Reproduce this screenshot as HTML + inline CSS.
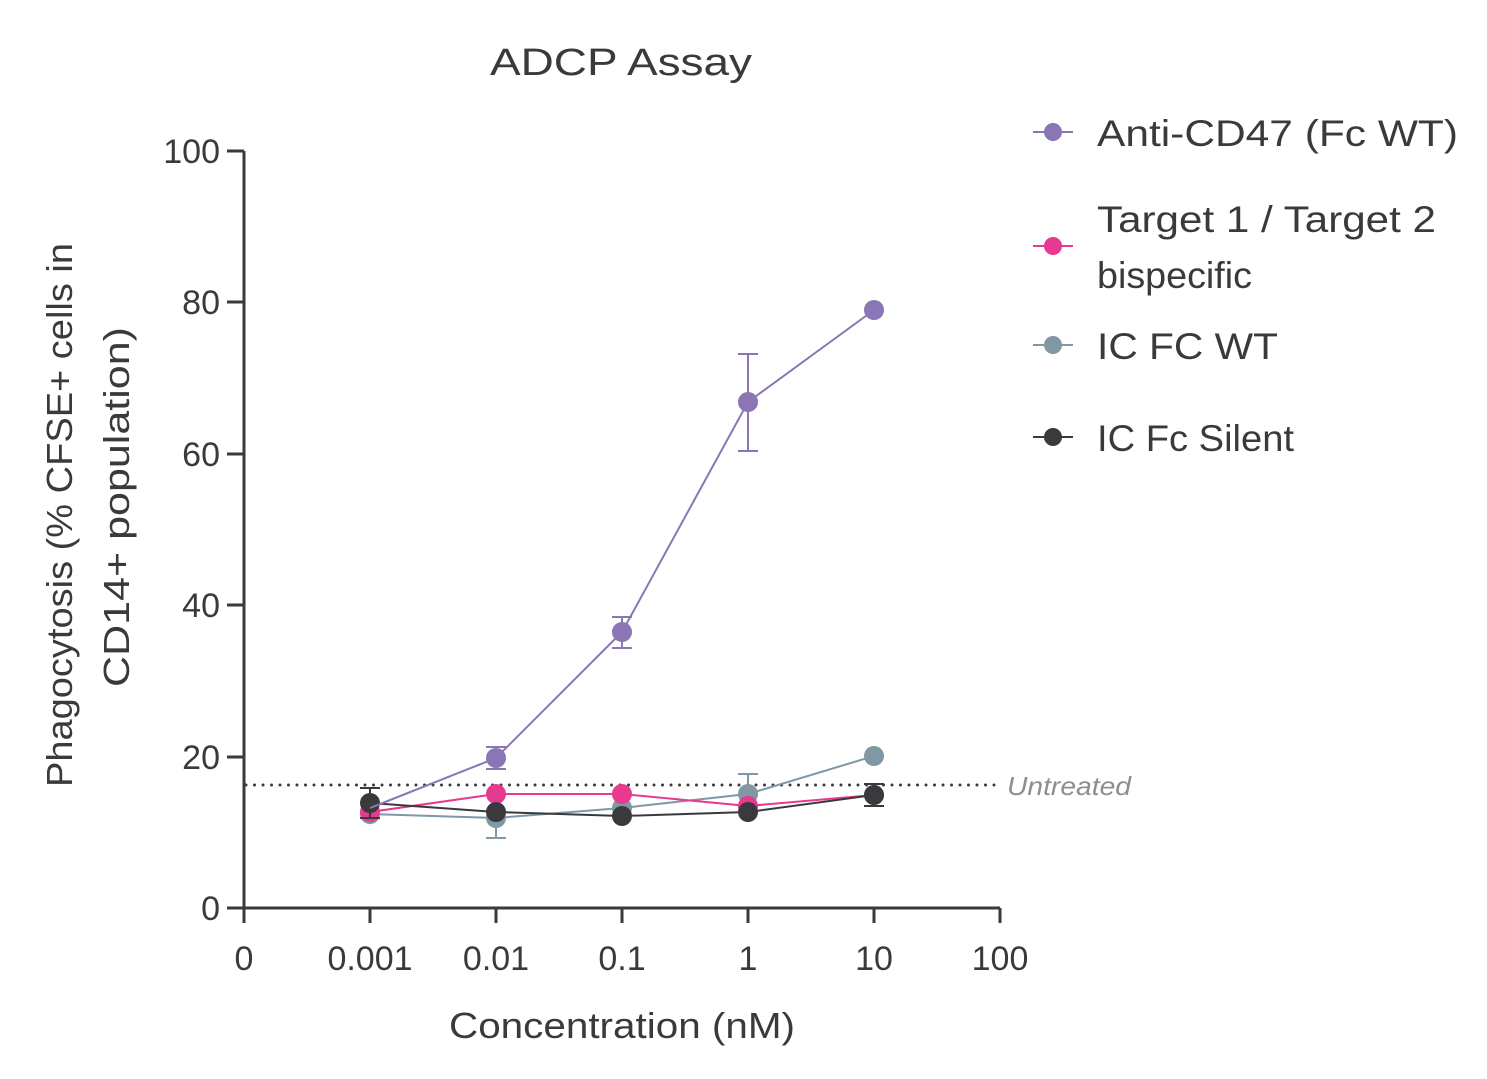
<!DOCTYPE html>
<html><head><meta charset="utf-8"><style>
html,body{margin:0;padding:0;background:#fff;}
svg{display:block;font-family:"Liberation Sans",sans-serif;}
</style></head><body>
<svg width="1487" height="1079" viewBox="0 0 1487 1079" xmlns="http://www.w3.org/2000/svg" xml:space="preserve">
<rect width="1487" height="1079" fill="#fff"/>
<text x="490" y="75" font-size="38" fill="#3a3a3c" textLength="262" lengthAdjust="spacingAndGlyphs">ADCP  Assay</text>
<g stroke="#3a3a3c" stroke-width="3" fill="none">
<line x1="244" y1="151" x2="244" y2="908"/>
<line x1="242" y1="908" x2="1000" y2="908"/>
<line x1="227" y1="151" x2="244" y2="151"/>
<line x1="227" y1="302" x2="244" y2="302"/>
<line x1="227" y1="454" x2="244" y2="454"/>
<line x1="227" y1="605" x2="244" y2="605"/>
<line x1="227" y1="757" x2="244" y2="757"/>
<line x1="227" y1="908" x2="244" y2="908"/>
<line x1="244" y1="908" x2="244" y2="923"/>
<line x1="370" y1="908" x2="370" y2="923"/>
<line x1="496" y1="908" x2="496" y2="923"/>
<line x1="622" y1="908" x2="622" y2="923"/>
<line x1="748" y1="908" x2="748" y2="923"/>
<line x1="874" y1="908" x2="874" y2="923"/>
<line x1="1000" y1="908" x2="1000" y2="923"/>
</g>
<g font-size="34" fill="#3a3a3c" text-anchor="end">
<text x="220" y="163">100</text>
<text x="220" y="314">80</text>
<text x="220" y="466">60</text>
<text x="220" y="617">40</text>
<text x="220" y="769">20</text>
<text x="220" y="920">0</text>
</g>
<g font-size="34" fill="#3a3a3c" text-anchor="middle">
<text x="244" y="970">0</text>
<text x="370" y="970">0.001</text>
<text x="496" y="970">0.01</text>
<text x="622" y="970">0.1</text>
<text x="748" y="970">1</text>
<text x="874" y="970">10</text>
<text x="1000" y="970">100</text>
</g>
<text x="449" y="1038" font-size="36" fill="#3a3a3c" textLength="346" lengthAdjust="spacingAndGlyphs">Concentration (nM)</text>
<g transform="translate(72,0) rotate(-90)" font-size="36" fill="#3a3a3c">
<text x="-787" y="0" textLength="544" lengthAdjust="spacingAndGlyphs">Phagocytosis  (% CFSE+ cells in</text>
<text x="-687" y="57" textLength="360" lengthAdjust="spacingAndGlyphs">CD14+ population)</text>
</g>
<line x1="246" y1="785" x2="995" y2="785" stroke="#3a3a3c" stroke-width="3" stroke-dasharray="0 8.5" stroke-linecap="round"/>
<text x="1007" y="795" font-size="26" font-style="italic" fill="#8a8f93" textLength="124" lengthAdjust="spacingAndGlyphs">Untreated</text>
<g stroke="#7f98a4" stroke-width="2" fill="none">
<polyline points="370,814 496,818 622,808 748,794 874,756"/>
<line x1="496" y1="798" x2="496" y2="838"/><line x1="486" y1="838" x2="506" y2="838"/>
<line x1="748" y1="774" x2="748" y2="794"/><line x1="738" y1="774" x2="758" y2="774"/>
</g>
<g fill="#7f98a4"><circle cx="370" cy="814" r="10"/><circle cx="496" cy="818" r="10"/><circle cx="622" cy="808" r="10"/><circle cx="748" cy="794" r="10"/><circle cx="874" cy="756" r="10"/></g>
<g stroke="#e6398f" stroke-width="2" fill="none"><polyline points="370,812 496,794 622,794 748,806 874,795"/></g>
<g fill="#e6398f"><circle cx="370" cy="812" r="10"/><circle cx="496" cy="794" r="10"/><circle cx="622" cy="794" r="10"/><circle cx="748" cy="806" r="10"/><circle cx="874" cy="795" r="10"/></g>
<g stroke="#3a3a3c" stroke-width="2" fill="none">
<polyline points="370,803 496,812 622,816 748,812 874,795"/>
<line x1="370" y1="788" x2="370" y2="818"/><line x1="360" y1="788" x2="380" y2="788"/><line x1="360" y1="818" x2="380" y2="818"/>
<line x1="874" y1="784" x2="874" y2="806"/><line x1="864" y1="784" x2="884" y2="784"/><line x1="864" y1="806" x2="884" y2="806"/>
</g>
<g fill="#3a3a3c"><circle cx="370" cy="803" r="10"/><circle cx="496" cy="812" r="10"/><circle cx="622" cy="816" r="10"/><circle cx="748" cy="812" r="10"/><circle cx="874" cy="795" r="10"/></g>
<g stroke="#8a76b4" stroke-width="2" fill="none">
<polyline points="370,808 496,758 622,632 748,402 874,310"/>
<line x1="496" y1="747" x2="496" y2="769"/><line x1="486" y1="747" x2="506" y2="747"/><line x1="486" y1="769" x2="506" y2="769"/>
<line x1="622" y1="617" x2="622" y2="648"/><line x1="612" y1="617" x2="632" y2="617"/><line x1="612" y1="648" x2="632" y2="648"/>
<line x1="748" y1="354" x2="748" y2="451"/><line x1="738" y1="354" x2="758" y2="354"/><line x1="738" y1="451" x2="758" y2="451"/>
</g>
<g fill="#8a76b4"><circle cx="496" cy="758" r="10"/><circle cx="622" cy="632" r="10"/><circle cx="748" cy="402" r="10"/><circle cx="874" cy="310" r="10"/></g>
<g stroke-width="2">
<line x1="1033" y1="132" x2="1073" y2="132" stroke="#8a76b4"/><circle cx="1053" cy="132" r="9" fill="#8a76b4"/>
<line x1="1033" y1="246" x2="1073" y2="246" stroke="#e6398f"/><circle cx="1053" cy="246" r="9" fill="#e6398f"/>
<line x1="1033" y1="345" x2="1073" y2="345" stroke="#7f98a4"/><circle cx="1053" cy="345" r="9" fill="#7f98a4"/>
<line x1="1033" y1="437" x2="1073" y2="437" stroke="#3a3a3c"/><circle cx="1053" cy="437" r="9" fill="#3a3a3c"/>
</g>
<g font-size="37" fill="#3a3a3c">
<text x="1097" y="146" textLength="361" lengthAdjust="spacingAndGlyphs">Anti-CD47  (Fc WT)</text>
<text x="1097" y="232" textLength="339" lengthAdjust="spacingAndGlyphs">Target 1 /  Target 2</text>
<text x="1097" y="288" textLength="155" lengthAdjust="spacingAndGlyphs">bispecific</text>
<text x="1097" y="359" textLength="181" lengthAdjust="spacingAndGlyphs">IC FC WT</text>
<text x="1097" y="451" textLength="197" lengthAdjust="spacingAndGlyphs">IC Fc Silent</text>
</g>
</svg>
</body></html>
